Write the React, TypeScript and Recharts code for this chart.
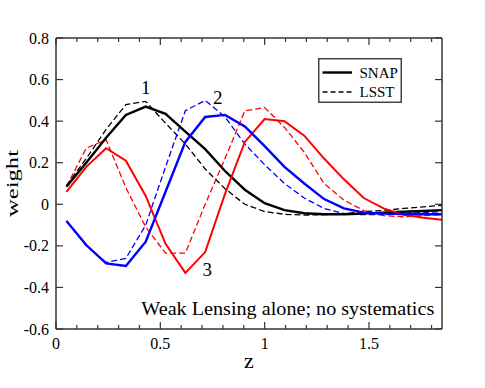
import { Legend, Line, LineChart, ReferenceDot, XAxis, YAxis } from 'recharts';

const FONT = 'Liberation Serif, Times New Roman, Times, serif';
const AXIS = '#333333';
const TXT = { fontFamily: FONT };

// redshift grid of the weight curves
const z = [0.05, 0.145, 0.24, 0.335, 0.43, 0.525, 0.62, 0.715, 0.81, 0.905, 1.0, 1.095, 1.19, 1.285, 1.38, 1.475, 1.57, 1.665, 1.76, 1.855];

const snap1 = [0.085, 0.2, 0.32, 0.43, 0.47, 0.435, 0.35, 0.265, 0.16, 0.07, 0.005, -0.028, -0.043, -0.048, -0.048, -0.045, -0.04, -0.036, -0.032, -0.028];
const lsst1 = [0.09, 0.22, 0.36, 0.48, 0.495, 0.39, 0.29, 0.17, 0.075, 0.0, -0.035, -0.048, -0.052, -0.05, -0.045, -0.035, -0.03, -0.02, -0.012, -0.005];
const snap2 = [-0.08, -0.196, -0.284, -0.297, -0.18, 0.06, 0.3, 0.42, 0.43, 0.375, 0.28, 0.18, 0.1, 0.025, -0.02, -0.04, -0.045, -0.047, -0.048, -0.048];
const lsst2 = [-0.08, -0.2, -0.28, -0.26, -0.1, 0.18, 0.45, 0.5, 0.42, 0.29, 0.19, 0.1, 0.03, -0.02, -0.045, -0.05, -0.05, -0.045, -0.04, -0.035];
const snap3 = [0.06, 0.18, 0.27, 0.21, 0.04, -0.19, -0.33, -0.23, 0.05, 0.3, 0.41, 0.4, 0.33, 0.22, 0.12, 0.03, -0.02, -0.05, -0.065, -0.075];
const lsst3 = [0.085, 0.27, 0.31, 0.08, -0.11, -0.235, -0.235, 0.0, 0.22, 0.45, 0.465, 0.37, 0.25, 0.1, 0.02, -0.03, -0.055, -0.06, -0.055, -0.05];

const xTicks = [0, 0.1, 0.2, 0.3, 0.4, 0.5, 0.6, 0.7, 0.8, 0.9, 1.0, 1.1, 1.2, 1.3, 1.4, 1.5, 1.6, 1.7, 1.8];
const yTicks = [-0.6, -0.4, -0.2, 0, 0.2, 0.4, 0.6, 0.8];

const binLabels = [
  { text: '1', z: 0.43, w: 0.56 },
  { text: '2', z: 0.775, w: 0.514 },
  { text: '3', z: 0.725, w: -0.316 },
];

const legendItems = [
  { name: 'SNAP', dash: undefined },
  { name: 'LSST', dash: '5 3' },
];

const data = z.map((v, i) => ({
  z: v,
  snap1: snap1[i],
  lsst1: lsst1[i],
  snap2: snap2[i],
  lsst2: lsst2[i],
  snap3: snap3[i],
  lsst3: lsst3[i],
}));

const isMajorX = (v: number) => Math.abs(v * 2 - Math.round(v * 2)) < 1e-6;
const fmtX = (v: number) => String(Math.round(v * 10) / 10);
const fmtY = (v: number) => (v === 0 ? '0' : v.toFixed(1));

function BottomTick({ x, y, payload }: any) {
  const major = isMajorX(payload.value);
  return (
    <g>
      <line x1={x} y1={y} x2={x} y2={y - (major ? 7 : 4)} stroke={AXIS} strokeWidth={1.2} />
      {major && (
        <text x={x} y={y + 20} textAnchor="middle" style={TXT} fontSize={16} fill="#000">
          {fmtX(payload.value)}
        </text>
      )}
    </g>
  );
}

function TopTick({ x, y, payload }: any) {
  const major = isMajorX(payload.value);
  return <line x1={x} y1={y} x2={x} y2={y + (major ? 7 : 4)} stroke={AXIS} strokeWidth={1.2} />;
}

function LeftTick({ x, y, payload }: any) {
  return (
    <g>
      <line x1={x} y1={y} x2={x + 7} y2={y} stroke={AXIS} strokeWidth={1.2} />
      <text x={x - 7} y={y + 5.5} textAnchor="end" style={TXT} fontSize={16} fill="#000">
        {fmtY(payload.value)}
      </text>
    </g>
  );
}

function RightTick({ x, y }: any) {
  return <line x1={x} y1={y} x2={x - 7} y2={y} stroke={AXIS} strokeWidth={1.2} />;
}

function LegendBox() {
  return (
    <svg width={84} height={45} style={{ display: 'block' }}>
      <rect x={0.75} y={0.75} width={82.5} height={43.5} fill="#fff" stroke="#444" strokeWidth={1.5} />
      {legendItems.map((item, i) => (
        <g key={item.name}>
          <line
            x1={4.5}
            x2={34}
            y1={14.5 + i * 19.5}
            y2={14.5 + i * 19.5}
            stroke="#000"
            strokeWidth={item.dash ? 1.3 : 2.4}
            strokeDasharray={item.dash}
          />
          <text x={41.5} y={19.5 + i * 19.5} style={TXT} fontSize={15} fill="#000">
            {item.name}
          </text>
        </g>
      ))}
    </svg>
  );
}

export default function App() {
  return (
    <div style={{ position: 'absolute', left: 0, top: 0, background: '#fff', fontFamily: FONT }}>
      <LineChart width={485} height={388} data={data} margin={{ top: 28, right: 33, bottom: 29, left: 6 }}>
        <XAxis
          dataKey="z"
          type="number"
          domain={[0, 1.85]}
          allowDataOverflow
          ticks={xTicks}
          interval={0}
          tickSize={0}
          tickMargin={0}
          tickLine={false}
          tick={<BottomTick />}
          height={30}
          axisLine={{ stroke: AXIS, strokeWidth: 1.5 }}
          label={{
            content: ({ viewBox }: any) => (
              <text x={viewBox.x + viewBox.width / 2} y={viewBox.y + 39} textAnchor="middle" style={TXT} fontSize={22} fill="#000">
                z
              </text>
            ),
          }}
        />
        <XAxis
          xAxisId="top"
          orientation="top"
          dataKey="z"
          type="number"
          domain={[0, 1.85]}
          allowDataOverflow
          ticks={xTicks}
          interval={0}
          tickSize={0}
          tickMargin={0}
          tickLine={false}
          tick={<TopTick />}
          height={10}
          axisLine={{ stroke: AXIS, strokeWidth: 1.5 }}
        />
        <YAxis
          type="number"
          domain={[-0.6, 0.8]}
          allowDataOverflow
          ticks={yTicks}
          interval={0}
          tickSize={0}
          tickMargin={0}
          tickLine={false}
          tick={<LeftTick />}
          width={50}
          axisLine={{ stroke: AXIS, strokeWidth: 1.5 }}
          label={{
            content: ({ viewBox }: any) => (
              <text
                transform={`translate(${viewBox.x + 11.5}, ${viewBox.y + viewBox.height / 2}) rotate(-90)`}
                textAnchor="middle"
                style={TXT}
                fontSize={17}
                textLength={67}
                lengthAdjust="spacingAndGlyphs"
                fill="#000"
              >
                weight
              </text>
            ),
          }}
        />
        <YAxis
          yAxisId="right"
          orientation="right"
          type="number"
          domain={[-0.6, 0.8]}
          allowDataOverflow
          ticks={yTicks}
          interval={0}
          tickSize={0}
          tickMargin={0}
          tickLine={false}
          tick={<RightTick />}
          width={10}
          axisLine={{ stroke: AXIS, strokeWidth: 1.5 }}
        />
        <Legend
          layout="horizontal"
          verticalAlign="middle"
          align="center"
          content={<LegendBox />}
          wrapperStyle={{ left: 318, top: 58, width: 84, height: 45 }}
        />
        <Line type="linear" dataKey="lsst1" stroke="#000" strokeWidth={1.3} strokeDasharray="6 3" dot={false} isAnimationActive={false} />
        <Line type="linear" dataKey="lsst2" stroke="#0000ff" strokeWidth={1.3} strokeDasharray="6 3" dot={false} isAnimationActive={false} />
        <Line type="linear" dataKey="lsst3" stroke="#ff0000" strokeWidth={1.3} strokeDasharray="6 3" dot={false} isAnimationActive={false} />
        <Line type="linear" dataKey="snap1" stroke="#000" strokeWidth={2.4} dot={false} isAnimationActive={false} />
        <Line type="linear" dataKey="snap3" stroke="#ff0000" strokeWidth={2} dot={false} isAnimationActive={false} />
        <Line type="linear" dataKey="snap2" stroke="#0000ff" strokeWidth={2.4} dot={false} isAnimationActive={false} />
        {binLabels.map((b) => (
          <ReferenceDot
            key={b.text}
            x={b.z}
            y={b.w}
            r={0}
            shape={(p: any) => (
              <text x={p.cx} y={p.cy + 6.5} textAnchor="middle" style={TXT} fontSize={19} fill="#000">
                {b.text}
              </text>
            )}
          />
        ))}
        <ReferenceDot
          x={1.813}
          y={-0.533}
          r={0}
          shape={(p: any) => (
            <text x={p.cx} y={p.cy} textAnchor="end" style={TXT} fontSize={18} textLength={293} lengthAdjust="spacingAndGlyphs" fill="#000">
              Weak Lensing alone; no systematics
            </text>
          )}
        />
      </LineChart>
    </div>
  );
}
